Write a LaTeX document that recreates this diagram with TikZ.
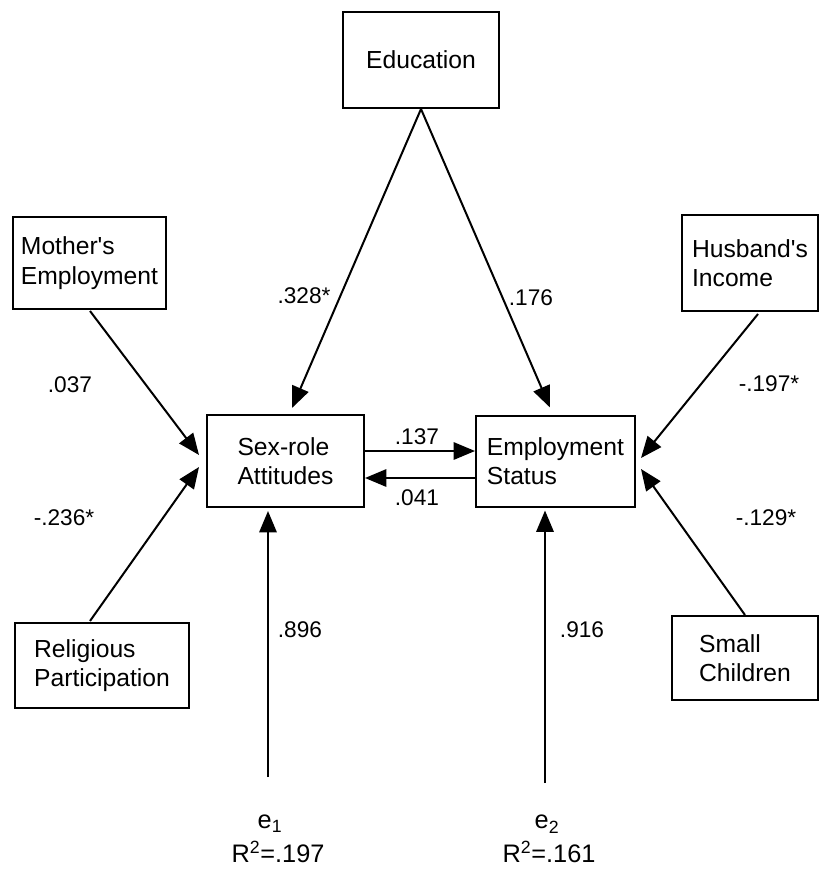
\documentclass[tikz,border=0pt]{standalone}
\usepackage{fontspec}
\setmainfont{Liberation Sans}
\usetikzlibrary{arrows.meta}
\def\u{0.75pt}
\begin{document}
\begin{tikzpicture}[x=0.75pt,y=-0.75pt,
  box/.style={draw,line width=1.5pt,align=left,inner sep=0pt,
    font=\fontsize{18.5}{22}\selectfont},
  path/.style={line width=1.5pt,-{Triangle[length=16pt,width=13pt]}},
  coef/.style={font=\fontsize{17}{20}\selectfont,inner sep=1pt},
  err/.style={font=\fontsize{19}{22}\selectfont,inner sep=0pt}]
\useasboundingbox (0,0) rectangle (821,878);

% variable boxes
\node[box,minimum width={156*\u},minimum height={96*\u}] (edu) at (421,60) {Education};
\node[box,minimum width={153*\u},minimum height={92*\u}] (moth) at (89.5,263) {Mother\textquotesingle s\\Employment};
\node[box,minimum width={136*\u},minimum height={96*\u}] (husb) at (750,263) {Husband\textquotesingle s\\Income};
\node[box,minimum width={157*\u},minimum height={92*\u}] (sex) at (285.5,461) {Sex-role\\Attitudes};
\node[box,minimum width={159*\u},minimum height={91*\u}] (emp) at (555.5,461.5) {Employment\\Status};
\node[box,minimum width={174*\u},minimum height={85*\u}] (relig) at (102,665.5) {Religious\\Participation};
\node[box,minimum width={146*\u},minimum height={84*\u}] (kids) at (745,658) {Small\\Children};

% disturbance terms and explained variance
\node[err] (e1) at (270,824) {e\textsubscript{1}};
\node[err] (r1) at (278,852) {R\textsuperscript{2}=.197};
\node[err] (e2) at (547,824) {e\textsubscript{2}};
\node[err] (r2) at (549,852) {R\textsuperscript{2}=.161};
\coordinate (e1top) at (268,777);
\coordinate (e2top) at (545,783);

% paths
\draw[path] (edu.south) -- ([shift={(6.5,-6)}]sex.north);
\draw[path] (edu.south) -- ([shift={(-5.5,-7.5)}]emp.north);
\draw[path] ([shift={(0.5,1)}]moth.south) -- ([shift={(-7,-6)}]sex.west);
\draw[path] ([shift={(-12,-1)}]relig.north) -- ([shift={(-7,6)}]sex.west);
\draw[path] ([shift={(8,2)}]husb.south) -- ([shift={(5,-3.5)}]emp.east);
\draw[path] (kids.north) -- ([shift={(5,7.5)}]emp.east);
\draw[path] ([shift={(0,-10)}]sex.east) -- ([shift={(0,-10.5)}]emp.west);
\draw[path] ([shift={(0,16.5)}]emp.west) -- ([shift={(0,17)}]sex.east);
\draw[path] (e1top) -- ([shift={(-17.5,3)}]sex.south);
\draw[path] (e2top) -- ([shift={(-10.5,2.5)}]emp.south);

% coefficients
\node[coef] (c1) at (304,296) {.328*};
\node[coef] (c2) at (531,298) {.176};
\node[coef] (c3) at (70,385) {.037};
\node[coef] (c4) at (64,518) {-.236*};
\node[coef] (c5) at (769,384) {-.197*};
\node[coef] (c6) at (766,518) {-.129*};
\node[coef] (c7) at (417,437) {.137};
\node[coef] (c8) at (417,498) {.041};
\node[coef] (c9) at (300,630) {.896};
\node[coef] (c10) at (582,630) {.916};
\end{tikzpicture}
\end{document}
